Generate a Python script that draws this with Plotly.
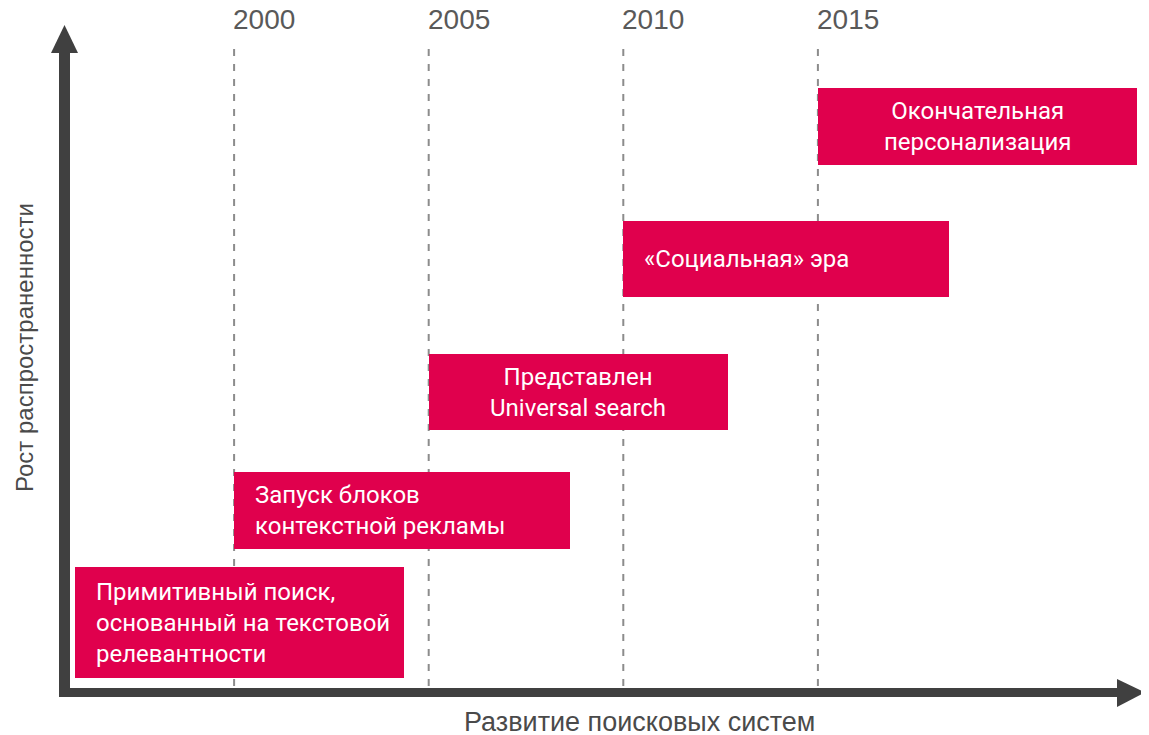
import plotly.graph_objects as go

# ---- data ----
labels = [
    "Примитивный поиск,<br>основанный на текстовой<br>релевантности",
    "Запуск блоков<br>контекстной рекламы",
    "Представлен<br>Universal search",
    "«Социальная» эра",
    "Окончательная<br>персонализация",
]
start_year = [1995.91, 2000.0, 2005.0, 2010.0, 2015.0]
end_year = [2004.37, 2008.63, 2012.69, 2018.37, 2023.2]
level = [69.5, 181.5, 300.0, 433.0, 565.5]       # growth level (bar centre)
thickness = [111, 77, 76, 76, 77]                 # bar thickness in level units
text_align = ["left", "left", "center", "left", "center"]
milestone_years = [2000, 2005, 2010, 2015]
x_title = "Развитие поисковых систем"
y_title = "Рост распространенности"

OFF = 8  # page body margin
W, H = 1149 - OFF, 735 - OFF
BAR_COLOR = "#E0004D"
AXIS_COLOR = "#404040"
TEXT_FONT = "Roboto, Liberation Sans, Arial, sans-serif"
LABEL_FONT = "Liberation Sans, Arial, sans-serif"


def px(x):
    return (x - OFF) / W


def py(y):
    return 1 - (y - OFF) / H


fig = go.Figure()
fig.add_trace(go.Bar(
    orientation="h",
    base=start_year,
    x=[e - s for s, e in zip(start_year, end_year)],
    y=level,
    width=thickness,
    marker=dict(color=BAR_COLOR, line=dict(width=0)),
    hoverinfo="skip",
    showlegend=False,
))

annotations = []
for lab, s, e, lv, al in zip(labels, start_year, end_year, level, text_align):
    if al == "left":
        annotations.append(dict(x=s, y=lv, xref="x", yref="y", text=lab, showarrow=False,
                                xanchor="left", yanchor="middle", align="left", xshift=19,
                                font=dict(family=TEXT_FONT, size=24, color="white")))
    else:
        annotations.append(dict(x=(s + e) / 2, y=lv, xref="x", yref="y", text=lab, showarrow=False,
                                xanchor="center", yanchor="middle", align="center",
                                font=dict(family=TEXT_FONT, size=24, color="white")))

for yr in milestone_years:
    annotations.append(dict(x=yr, y=py(20), xref="x", yref="paper", text=str(yr), showarrow=False,
                            xanchor="left", yanchor="middle", xshift=-3,
                            font=dict(family=LABEL_FONT, size=28, color="#595959")))

annotations.append(dict(x=px(639), y=py(722), xref="paper", yref="paper", text=x_title,
                        showarrow=False, xanchor="center", yanchor="middle",
                        font=dict(family=LABEL_FONT, size=27, color="#4a4a4a")))
annotations.append(dict(x=px(24), y=py(348), xref="paper", yref="paper", text=y_title,
                        showarrow=False, xanchor="center", yanchor="middle", textangle=-90,
                        font=dict(family=LABEL_FONT, size=24, color="#4a4a4a")))

shapes = []
for yr in milestone_years:
    shapes.append(dict(type="line", xref="x", yref="paper", x0=yr, x1=yr, y0=py(686), y1=py(47),
                       line=dict(color="#8c8c8c", width=2, dash="7px,8px"), layer="below"))

# axis arrows
shapes.append(dict(type="rect", xref="paper", yref="paper", x0=px(59), x1=px(70), y0=py(697), y1=py(52),
                   fillcolor=AXIS_COLOR, line=dict(width=0)))
shapes.append(dict(type="path", xref="paper", yref="paper",
                   path=f"M {px(51)} {py(53)} L {px(78)} {py(53)} L {px(64.5)} {py(25)} Z",
                   fillcolor=AXIS_COLOR, line=dict(width=0)))
shapes.append(dict(type="rect", xref="paper", yref="paper", x0=px(59), x1=px(1118), y0=py(697), y1=py(688),
                   fillcolor=AXIS_COLOR, line=dict(width=0)))
shapes.append(dict(type="path", xref="paper", yref="paper",
                   path=f"M {px(1117)} {py(679)} L {px(1117)} {py(707)} L {px(1145)} {py(692.5)} Z",
                   fillcolor=AXIS_COLOR, line=dict(width=0)))

# x axis: screen pixel -> year (linear fit of milestone positions)
x_lo = 2007.5 + (OFF - 526) / 38.92
x_hi = 2007.5 + (1149 - 526) / 38.92

fig.update_layout(
    width=W, height=H,
    margin=dict(l=0, r=0, t=0, b=0),
    paper_bgcolor="white", plot_bgcolor="white",
    xaxis=dict(range=[x_lo, x_hi], visible=False, fixedrange=True),
    yaxis=dict(range=[-43, 692 - OFF], visible=False, fixedrange=True),
    annotations=annotations,
    shapes=shapes,
    bargap=0,
)

fig.write_html("out.html")
